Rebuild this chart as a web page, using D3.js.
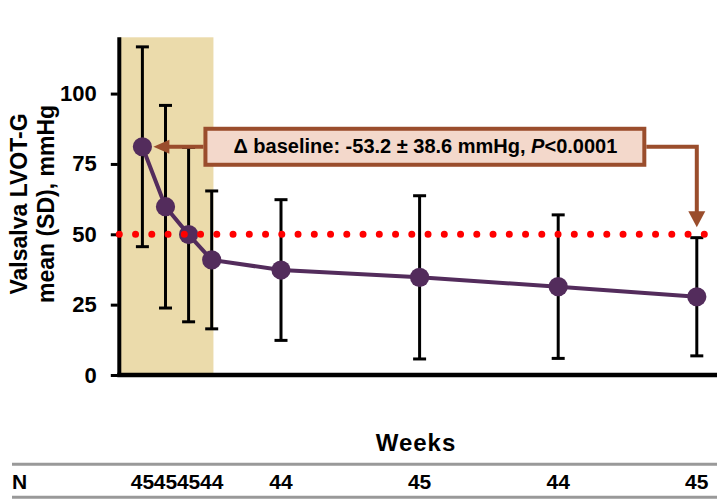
<!DOCTYPE html>
<html>
<head>
<meta charset="utf-8">
<script src="https://cdn.jsdelivr.net/npm/d3@7"></script>
<style>
  html, body { margin: 0; padding: 0; background: #fff; }
  svg { display: block; font-family: "Liberation Sans", Arial, Helvetica, sans-serif; }
</style>
</head>
<body>
<svg id="chart" width="717" height="499"></svg>
<script>
// ---- data ----
const weeks   = [0, 2, 4, 6, 12, 24, 36, 48];
const means   = [81.1, 59.8, 49.9, 40.9, 37.3, 34.7, 31.4, 27.8];
const sds     = [35.5, 36.0, 31.0, 24.5, 25.0, 29.0, 25.5, 21.0];
const nCounts = [45, 45, 45, 44, 44, 45, 44, 45];
const yTicks  = [0, 25, 50, 75, 100];
const threshold = 50;
const shadeWeeks = [-2, 6.15];
const yTitleLines = ["Valsalva LVOT-G", "mean (SD), mmHg"];
const xTitle = "Weeks";
const nLabel = "N";
const annotParts = [
  { text: "\u0394 baseline: -53.2 \u00b1 38.6 mmHg, ", italic: false },
  { text: "P", italic: true },
  { text: "<0.0001", italic: false }
];

// ---- scales ----
const svg = d3.select("#chart");
const x = d3.scaleLinear().domain([-2, 50]).range([119.3, 119.3 + 52 * 11.55]);
const y = d3.scaleLinear().domain([0, 120]).range([375, 37.3]);

const purple = "#532c5c";
const brown = "#9a4d2c";

// shaded induction region
svg.append("rect")
  .attr("x", x(shadeWeeks[0]))
  .attr("y", y(120))
  .attr("width", x(shadeWeeks[1]) - x(shadeWeeks[0]))
  .attr("height", y(0) - y(120))
  .attr("fill", "#ebdbab");

// y axis ticks + labels
const yAxis = d3.axisLeft(y).tickValues(yTicks).tickSize(7).tickPadding(14);
const gy = svg.append("g").attr("transform", `translate(${x(-2) - 1.5},0)`).call(yAxis);
gy.select(".domain").remove();
gy.selectAll(".tick line").attr("stroke", "#000").attr("stroke-width", 3);
gy.selectAll(".tick text")
  .attr("fill", "#000")
  .style("font-size", "22px")
  .style("font-weight", "bold");

// axis lines
svg.append("line")
  .attr("x1", x(-2)).attr("x2", x(-2))
  .attr("y1", y(120)).attr("y2", y(0) + 2)
  .attr("stroke", "#000").attr("stroke-width", 4);
svg.append("line")
  .attr("x1", x(-2) - 2).attr("x2", 717)
  .attr("y1", y(0)).attr("y2", y(0))
  .attr("stroke", "#000").attr("stroke-width", 4.5);

// error bars
const eb = svg.append("g").attr("stroke", "#000").attr("stroke-width", 3);
weeks.forEach((w, i) => {
  const hi = means[i] + sds[i], lo = means[i] - sds[i];
  eb.append("line").attr("x1", x(w)).attr("x2", x(w)).attr("y1", y(hi)).attr("y2", y(lo));
  eb.append("line").attr("x1", x(w) - 6.5).attr("x2", x(w) + 6.5).attr("y1", y(hi)).attr("y2", y(hi));
  eb.append("line").attr("x1", x(w) - 6.5).attr("x2", x(w) + 6.5).attr("y1", y(lo)).attr("y2", y(lo));
});

// mean line
const line = d3.line().x((d, i) => x(weeks[i])).y(d => y(d));
svg.append("path")
  .datum(means)
  .attr("d", line)
  .attr("fill", "none")
  .attr("stroke", purple)
  .attr("stroke-width", 4);

svg.append("g").selectAll("circle")
  .data(means)
  .join("circle")
  .attr("cx", (d, i) => x(weeks[i]))
  .attr("cy", d => y(d))
  .attr("r", 9.6)
  .attr("fill", purple);

// red dotted threshold line
svg.append("line")
  .attr("x1", x(-2)).attr("x2", x(49.2))
  .attr("y1", y(threshold)).attr("y2", y(threshold))
  .attr("stroke", "#ff0000")
  .attr("stroke-width", 7)
  .attr("stroke-linecap", "round")
  .attr("stroke-dasharray", "0 16.25");

// annotation
const ay = y(means[0]);
const acx = x(24.5);
const ag = svg.append("g");
const boxRect = ag.append("rect");
const atext = ag.append("text")
  .attr("x", acx).attr("y", ay)
  .attr("dy", "0.33em")
  .attr("text-anchor", "middle")
  .style("font-size", "20px")
  .style("font-weight", "bold")
  .attr("fill", "#000");
annotParts.forEach(p => {
  atext.append("tspan").text(p.text).style("font-style", p.italic ? "italic" : "normal");
});
const bb = atext.node().getBBox();
const bx0 = bb.x - 28, bx1 = bb.x + bb.width + 27;
boxRect
  .attr("x", bx0).attr("y", ay - 18)
  .attr("width", bx1 - bx0).attr("height", 36)
  .attr("fill", "#f3d8cb")
  .attr("stroke", brown)
  .attr("stroke-width", 4);

// left arrow
const tipL = x(weeks[0]) + 11;
svg.append("line")
  .attr("x1", bx0 - 2).attr("x2", tipL + 14)
  .attr("y1", ay).attr("y2", ay)
  .attr("stroke", brown).attr("stroke-width", 4);
svg.append("path")
  .attr("d", `M${tipL},${ay} L${tipL + 16},${ay - 7} L${tipL + 16},${ay + 7} Z`)
  .attr("fill", brown);

// right arrow
const xr = x(weeks[weeks.length - 1]);
const tipR = y(threshold) - 7;
svg.append("path")
  .attr("d", `M${bx1 + 2},${ay} L${xr},${ay} L${xr},${tipR - 14}`)
  .attr("fill", "none")
  .attr("stroke", brown).attr("stroke-width", 4)
  .attr("stroke-linejoin", "miter");
svg.append("path")
  .attr("d", `M${xr},${tipR} L${xr - 8.5},${tipR - 16} L${xr + 8.5},${tipR - 16} Z`)
  .attr("fill", brown);

// y title
const yt = svg.append("text")
  .attr("transform", "translate(0,204) rotate(-90)")
  .attr("text-anchor", "middle")
  .style("font-size", "23px")
  .style("font-weight", "bold")
  .attr("fill", "#000");
yt.append("tspan").attr("x", 0).attr("y", 27).text(yTitleLines[0]);
yt.append("tspan").attr("x", 0).attr("y", 54).text(yTitleLines[1]);

// x title
svg.append("text")
  .attr("x", 416).attr("y", 451)
  .attr("text-anchor", "middle")
  .style("font-size", "24px")
  .style("font-weight", "bold")
  .style("letter-spacing", "1px")
  .text(xTitle);

// N table
[464.3, 497.3].forEach(yy => {
  svg.append("line")
    .attr("x1", 12).attr("x2", 717)
    .attr("y1", yy).attr("y2", yy)
    .attr("stroke", "#999").attr("stroke-width", 3);
});
svg.append("text")
  .attr("x", 12).attr("y", 488.5)
  .style("font-size", "21px").style("font-weight", "bold")
  .text(nLabel);
svg.append("g").selectAll("text")
  .data(nCounts)
  .join("text")
  .attr("x", (d, i) => x(weeks[i]))
  .attr("y", 488.5)
  .attr("text-anchor", "middle")
  .style("font-size", "21px").style("font-weight", "bold")
  .text(d => d);
</script>
</body>
</html>
